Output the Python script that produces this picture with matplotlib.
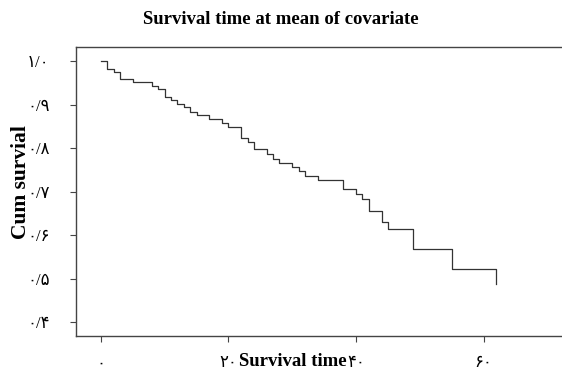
import numpy as np
import matplotlib
matplotlib.use("Agg")
import matplotlib.pyplot as plt

plt.rcParams['font.family'] = ['Liberation Serif', 'DejaVu Sans']

# survival curve (time, cumulative survival)
times = [0, 1, 2, 3, 5, 8, 9, 10, 11, 12, 13, 14, 15, 17, 19, 20, 22, 23, 24,
         26, 27, 28, 30, 31, 32, 34, 38, 40, 41, 42, 44, 45, 49, 55, 62]
surv = [1.0, 0.982, 0.974, 0.959, 0.951, 0.943, 0.936, 0.918, 0.910, 0.901,
        0.894, 0.883, 0.876, 0.867, 0.858, 0.849, 0.822, 0.815, 0.797, 0.786,
        0.776, 0.766, 0.757, 0.748, 0.736, 0.726, 0.705, 0.694, 0.682, 0.656,
        0.630, 0.615, 0.568, 0.522, 0.487]

xticks = [0, 20, 40, 60]
xtick_labels = ['۰', '۲۰', '۴۰', '۶۰']
yticks = [0.4, 0.5, 0.6, 0.7, 0.8, 0.9, 1.0]
ytick_labels = ['۰/۴', '۰/۵', '۰/۶', '۰/۷', '۰/۸', '۰/۹', '۱/۰']

W, H = 562, 372
fig = plt.figure(figsize=(W / 100, H / 100), dpi=100)
ax = fig.add_axes([76 / W, 1 - 336 / H, 1 - 76 / W, (336 - 46.7) / H])

ax.step(times, surv, where='post', color='#333333', lw=0.9)

ax.set_xlim(-3.9, 72.3)
ax.set_ylim(0.368, 1.033)
ax.spines['right'].set_visible(False)
for s in ['left', 'top', 'bottom']:
    ax.spines[s].set_color('#444444')
    ax.spines[s].set_linewidth(1.0)

ax.set_xticks(xticks)
ax.set_xticklabels(xtick_labels, fontsize=12)
ax.set_yticks(yticks)
ax.set_yticklabels(ytick_labels, fontsize=12)
ax.tick_params(axis='x', length=4, color='#444444', pad=10)
ax.tick_params(axis='y', length=4, color='#444444', pad=15)

fig.text(281 / W, 1 - 20 / H, 'Survival time at mean of covariate',
         ha='center', va='center', fontsize=13.5, fontweight='bold')
fig.text(293 / W, 1 - 362 / H, 'Survival time', ha='center', va='center',
         fontsize=13.5, fontweight='bold')
fig.text(21 / W, 1 - 182 / H, 'Cum survial', ha='center', va='center',
         rotation=90, fontsize=15.5, fontweight='bold')

fig.savefig('out.png', dpi=100)
